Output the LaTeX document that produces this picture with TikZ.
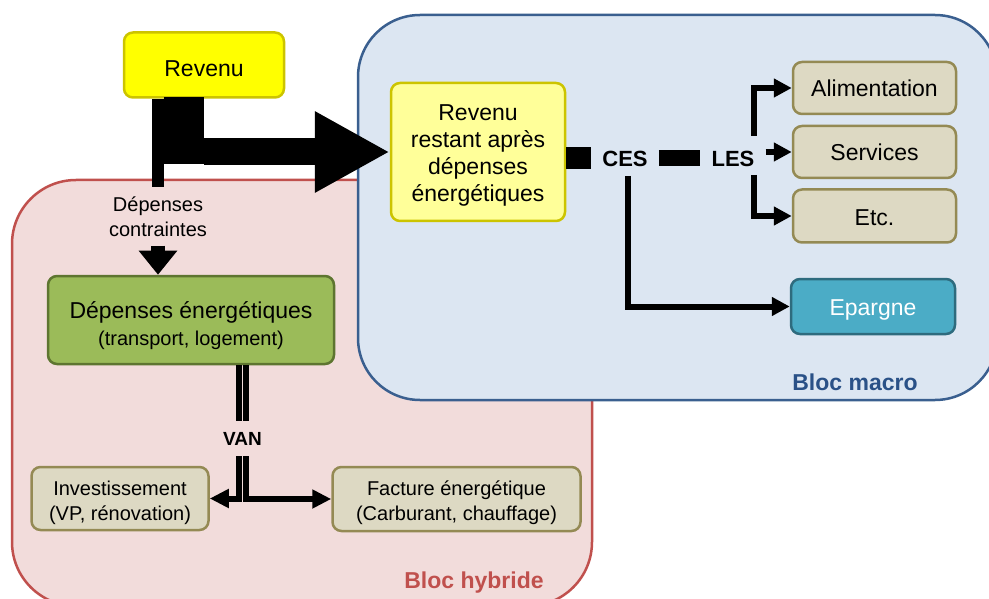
\documentclass[tikz,border=0pt]{standalone}
\usepackage{fontspec}
\setmainfont{Liberation Sans}
\usetikzlibrary{arrows.meta}
\definecolor{pinkfill}{HTML}{F2DCDB}
\definecolor{pinkline}{HTML}{C0504D}
\definecolor{bluefill}{HTML}{DCE6F2}
\definecolor{blueline}{HTML}{3A5F8F}
\definecolor{bluetext}{HTML}{2A5187}
\definecolor{yelfill}{HTML}{FFFF00}
\definecolor{yelline}{HTML}{CCC400}
\definecolor{ltyel}{HTML}{FFFF99}
\definecolor{grfill}{HTML}{9BBB59}
\definecolor{grline}{HTML}{5E7530}
\definecolor{bgfill}{HTML}{DDD9C3}
\definecolor{bgline}{HTML}{948A54}
\definecolor{epfill}{HTML}{4BACC6}
\definecolor{epline}{HTML}{2E6B7E}
\newcommand\fsz[2]{\fontsize{#1}{#2}\selectfont}
\newcommand\pushdown[1]{\rule{0pt}{#1}}
\begin{document}
\begin{tikzpicture}[x=1pt,y=-1pt,
  box/.style={draw, rounded corners=9pt, line width=2.5pt, align=center, inner sep=0pt},
  beige/.style={box, fill=bgfill, draw=bgline},
  bigtxt/.style={font=\fsz{23}{27}},
  smalltxt/.style={font=\fsz{20}{25}},
  conn/.style={line width=6pt, -{Triangle[length=18pt,width=18pt]}},
  conntwo/.style={line width=6pt, -{Triangle[length=19pt,width=18pt]}},
  lbl/.style={font=\bfseries\fsz{22}{26}, inner xsep=11pt, inner ysep=0pt},
  blocklbl/.style={font=\bfseries\fsz{23}{27}}
]
\path[use as bounding box] (0,0) rectangle (989,599);
\clip (0,0) rectangle (989,599);

% blocks
\draw[fill=pinkfill, draw=pinkline, line width=2.5pt, rounded corners=64pt] (12,180) rectangle (592,606);
\draw[fill=bluefill, draw=blueline, line width=2.5pt, rounded corners=62pt] (358,15) rectangle (997,400);
\node[blocklbl, text=bluetext] (bmacro) at (855,382) {Bloc macro};
\node[blocklbl, text=pinkline] (bhyb) at (474,583) {Bloc hybride};

% nodes
\node[box, bigtxt, fill=yelfill, draw=yelline, minimum width=160pt, minimum height=65pt] (rev) at (204,65) {\pushdown{23pt}Revenu};
\node[box, bigtxt, fill=ltyel, draw=yelline, minimum width=174pt, minimum height=138pt] (restant) at (478,152)
  {\pushdown{23pt}Revenu\\restant après\\dépenses\\énergétiques};
\node[smalltxt, align=center, inner xsep=4pt, inner ysep=9pt] (dc) at (158,216.5) {Dépenses\\contraintes};
\node[box, fill=grfill, draw=grline, minimum width=286pt, minimum height=88pt] (green) at (191,320)
  {{\fsz{23}{27}\pushdown{28pt}Dépenses énergétiques}\\[6pt]{\fsz{20}{25}(transport, logement)}};
\node[beige, smalltxt, minimum width=177pt, minimum height=63pt] (invest) at (120,498.5)
  {\pushdown{24pt}Investissement\\(VP, rénovation)};
\node[beige, smalltxt, minimum width=248pt, minimum height=64pt] (facture) at (456.5,499)
  {\pushdown{23pt}Facture énergétique\\(Carburant, chauffage)};
\node[beige, bigtxt, minimum width=163pt, minimum height=52pt] (alim) at (874.5,88) {Alimentation};
\node[beige, bigtxt, minimum width=163pt, minimum height=52pt] (services) at (874.5,152) {\pushdown{18pt}Services};
\node[beige, bigtxt, minimum width=163pt, minimum height=53pt] (etc) at (874.5,216) {\pushdown{19pt}Etc.};
\node[box, bigtxt, fill=epfill, draw=epline, text=white, minimum width=164pt, minimum height=55pt] (epargne) at (873,306.5) {\pushdown{23pt}Epargne};

\node[lbl] (ces) at (625,158.5) {CES};
\node[lbl] (les) at (733,158.5) {LES};
\node[font=\bfseries\fsz{19}{23}, minimum height=35pt, inner sep=0pt] (van) at (242.5,438.5) {VAN};

% revenu arrows
\draw[line width=12pt] (rev.south -| dc.north) -- (dc.north);
\fill (164,97) rectangle (203.5,164);
\draw[line width=27pt, -{Triangle[length=75pt,width=76pt]}] (rev.south |- restant.west) -- (restant.west);
\draw[line width=14pt, -{Triangle[length=24pt,width=37pt]}] (dc.south) -- (dc.south |- green.north);

% VAN
\coordinate (vl) at ([xshift=-3.25pt]van.north);
\coordinate (vr) at ([xshift=3.25pt]van.north);
\coordinate (vls) at ([xshift=-3.25pt]van.south);
\coordinate (vrs) at ([xshift=3.25pt]van.south);
\draw[line width=6.3pt] (vl |- green.south) -- (vl);
\draw[line width=6.3pt] (vr |- green.south) -- (vr);
\draw[conntwo] (vls) |- (invest.east);
\draw[conntwo] (vrs) |- (facture.west);

% CES / LES
\draw[line width=22pt] (ces.west -| restant.east) -- (ces.west);
\draw[line width=16pt] (ces.east) -- (les.west);
\coordinate (lesup) at (754,136);
\coordinate (lesdn) at (754,175);
\coordinate (cesdn) at (628,176);
\draw[conn] (lesup) |- (alim.west);
\draw[conn] (les.east |- services.west) -- (services.west);
\draw[conn] (lesdn) |- (etc.west);
\draw[conn] (cesdn) |- (epargne.west);
\end{tikzpicture}
\end{document}
